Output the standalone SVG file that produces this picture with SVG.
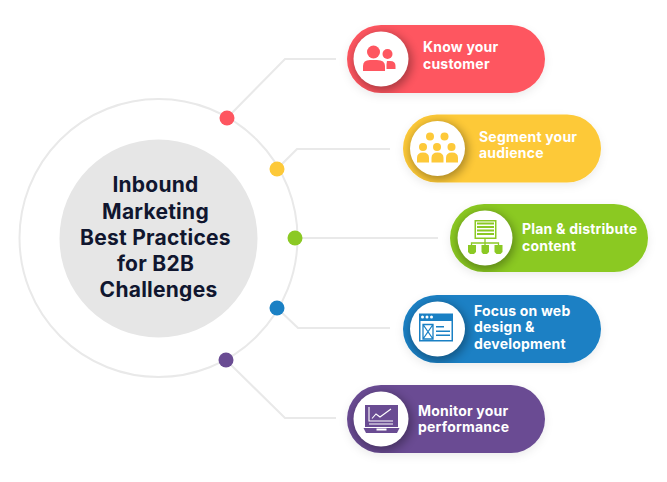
<svg xmlns="http://www.w3.org/2000/svg" width="667" height="482" viewBox="0 0 667 482">
<style>
.c{fill:none;stroke:#e9e9e9;stroke-width:2}
.l{font-family:Inter,"Liberation Sans",sans-serif;font-weight:700;font-size:14px;letter-spacing:.2px;fill:#fff}
.t{font-family:Inter,"Liberation Sans",sans-serif;font-weight:700;font-size:21px;letter-spacing:.25px;fill:#10162f;text-anchor:middle}
.w{fill:#fff}
</style>
<defs>
<filter id="b" x="-50%" y="-50%" width="200%" height="200%"><feGaussianBlur stdDeviation="5"/></filter>
<filter id="s" x="-20%" y="-30%" width="140%" height="170%"><feDropShadow dx="0" dy="3" stdDeviation="4" flood-color="#000" flood-opacity=".08"/></filter>
<clipPath id="c1"><rect x="347" y="25" width="198" height="68" rx="34"/></clipPath>
<clipPath id="c2"><rect x="403" y="114.500" width="198" height="68" rx="34"/></clipPath>
<clipPath id="c3"><rect x="450" y="204" width="198" height="68" rx="34"/></clipPath>
<clipPath id="c4"><rect x="403" y="295" width="198" height="68" rx="34"/></clipPath>
<clipPath id="c5"><rect x="347" y="385" width="198" height="68" rx="34"/></clipPath>
</defs>
<rect width="667" height="482" fill="#fff"/>
<g id="connectors">
<circle class="c" cx="158.500" cy="238" r="139"/>
<path class="c" d="M227 118L285 59H336"/>
<path class="c" d="M277 169L297 149H390"/>
<path class="c" d="M295 238H438"/>
<path class="c" d="M277 308L298 328H390"/>
<path class="c" d="M226 360L285 418H336"/>
</g>
<g id="center">
<circle cx="158.500" cy="238.500" r="99" fill="#e6e6e6"/>
<text class="t" x="155.500" y="192">Inbound</text>
<text class="t" x="155.500" y="219">Marketing</text>
<text class="t" x="155.500" y="245">Best Practices</text>
<text class="t" x="155.500" y="271">for B2B</text>
<text class="t" x="158.500" y="297">Challenges</text>
</g>
<g id="dots">
<circle cx="227" cy="118" r="7.500" fill="#fe5660"/>
<circle cx="277" cy="169" r="7.500" fill="#fdc939"/>
<circle cx="295" cy="238" r="7.500" fill="#8bc924"/>
<circle cx="277" cy="308" r="7.500" fill="#1a80c4"/>
<circle cx="226" cy="360" r="7.500" fill="#6a4c93"/>
</g>
<g id="node1">
<rect x="347" y="25" width="198" height="68" rx="34" fill="#fe5660" filter="url(#s)"/>
<g clip-path="url(#c1)"><circle cx="383" cy="62" r="29" fill="#000" opacity=".32" filter="url(#b)"/></g>
<circle class="w" cx="381" cy="59" r="27.500"/>
<g fill="#fe5660">
<circle cx="373.500" cy="52" r="6.500"/><circle cx="387.500" cy="54" r="5"/>
<path d="M363 71V66Q363 60 370 60H377Q385 60 385 66V71Z"/>
<path d="M387 61H390Q395.500 61 395.500 66V69H386.500V64Z"/>
</g>
<text class="l" x="423" y="52">Know your</text>
<text class="l" x="423" y="69">customer</text>
</g>
<g id="node2">
<rect x="403" y="114.500" width="198" height="68" rx="34" fill="#fdc939" filter="url(#s)"/>
<g clip-path="url(#c2)"><circle cx="439" cy="151" r="29" fill="#000" opacity=".32" filter="url(#b)"/></g>
<circle class="w" cx="437.500" cy="148.500" r="27.500"/>
<g fill="#fdc939">
<circle cx="430" cy="136.500" r="4"/><circle cx="444.500" cy="136.500" r="4"/>
<circle cx="423" cy="147" r="4"/><circle cx="437" cy="147" r="4"/><circle cx="451.500" cy="147" r="4"/>
<path d="M417 162.500V158Q417 152.500 423 152.500T429 158V162.500Z"/>
<path d="M431.500 162.500V158Q431.500 152.500 437.500 152.500T443.500 158V162.500Z"/>
<path d="M446 162.500V158Q446 152.500 452 152.500T458 158V162.500Z"/>
</g>
<text class="l" x="479" y="142">Segment your</text>
<text class="l" x="479" y="158">audience</text>
</g>
<g id="node3">
<rect x="450" y="204" width="198" height="68" rx="34" fill="#8bc924" filter="url(#s)"/>
<g clip-path="url(#c3)"><circle cx="486" cy="241" r="29" fill="#000" opacity=".32" filter="url(#b)"/></g>
<circle class="w" cx="485" cy="238" r="27.500"/>
<g fill="#8bc924">
<path d="M474.500 220H496.500V239H474.500ZM476 221.500V237.500H495V221.500Z" fill-rule="evenodd"/>
<rect x="477" y="222.500" width="17" height="2"/><rect x="477" y="226" width="17" height="2"/><rect x="477" y="229.500" width="17" height="2"/><rect x="477" y="233" width="17" height="2"/>
<path d="M485 239V243M471.500 245V243H498.500V245M485 243V246" fill="none" stroke="#8bc924" stroke-width="1.300"/>
<path d="M468 245H476V252L474 254H470L468 252Z"/><path d="M481.500 245H489V252L487 254H483L481.500 252Z"/><path d="M494.500 245H502.500V252L500.500 254H496.500L494.500 252Z"/>
</g>
<text class="l" x="522" y="234">Plan &amp; distribute</text>
<text class="l" x="522" y="251">content</text>
</g>
<g id="node4">
<rect x="403" y="295" width="198" height="68" rx="34" fill="#1a80c4" filter="url(#s)"/>
<g clip-path="url(#c4)"><circle cx="439" cy="332" r="29" fill="#000" opacity=".32" filter="url(#b)"/></g>
<circle class="w" cx="437.500" cy="329" r="27.500"/>
<g fill="#1a80c4">
<path d="M419 313.500H453V341.500H419ZM420.500 321V340H451.500V321Z" fill-rule="evenodd"/>
<g fill="#fff"><circle cx="422.500" cy="317" r="1.500"/><circle cx="427" cy="317" r="1.500"/><circle cx="431.500" cy="317" r="1.500"/></g>
<path d="M423 324.500H433V339H423ZM423 324.500L433 339M433 324.500L423 339" fill="none" stroke="#1a80c4" stroke-width="1.300"/>
<rect x="436" y="326" width="8" height="1.500"/><rect x="436" y="330.500" width="14" height="1.500"/><rect x="436" y="334.500" width="14" height="1.500"/>
</g>
<text class="l" x="474" y="316">Focus on web</text>
<text class="l" x="474" y="332">design &amp;</text>
<text class="l" x="474" y="349">development</text>
</g>
<g id="node5">
<rect x="347" y="385" width="198" height="68" rx="34" fill="#6a4c93" filter="url(#s)"/>
<g clip-path="url(#c5)"><circle cx="383" cy="422" r="29" fill="#000" opacity=".32" filter="url(#b)"/></g>
<circle class="w" cx="381" cy="419" r="27.500"/>
<g fill="#6a4c93">
<rect x="365" y="405" width="33" height="22"/>
<path d="M363.500 428H399.500L397 433H366Z"/>
<path d="M369 407V421H393M372 418.500L376 414L380 417L391 409" fill="none" stroke="#fff" stroke-width="1.100"/>
<rect x="369" y="423.500" width="24" height="1" fill="#fff"/>
<rect x="376.500" y="428.500" width="10" height="2" fill="#fff"/>
</g>
<text class="l" x="418" y="416">Monitor your</text>
<text class="l" x="418" y="432">performance</text>
</g>
</svg>
